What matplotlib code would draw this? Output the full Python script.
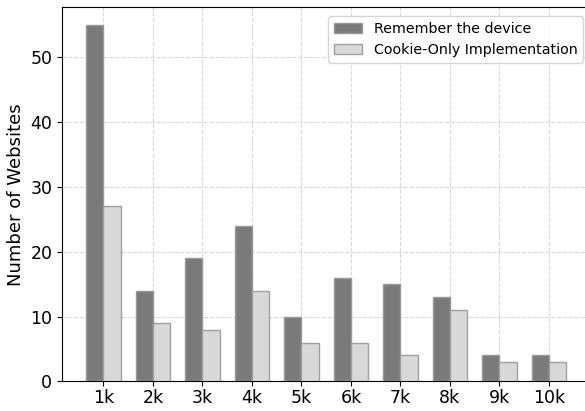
import matplotlib
matplotlib.use("Agg")
import matplotlib.pyplot as plt
import numpy as np

categories = ["1k", "2k", "3k", "4k", "5k", "6k", "7k", "8k", "9k", "10k"]
remember = [55, 14, 19, 24, 10, 16, 15, 13, 4, 4]
cookie_only = [27, 9, 8, 14, 6, 6, 4, 11, 3, 3]

fig = plt.figure(figsize=(5.85, 4.11), dpi=100)
ax = fig.add_axes([0.106, 0.072, 0.903, 0.911])
x = np.arange(len(categories))
w = 0.35
ax.bar(x - w/2, remember, w, color="#7a7a7a", edgecolor="#999999", linewidth=1.0,
       label="Remember the device", zorder=3)
ax.bar(x + w/2, cookie_only, w, color="#d8d8d8", edgecolor="#a0a0a0", linewidth=1.0,
       label="Cookie-Only Implementation", zorder=3)
ax.set_xticks(x)
ax.set_xticklabels(categories, fontsize=12.5)
ax.tick_params(axis="x", pad=2)
ax.tick_params(axis="y", labelsize=12.5)
ax.set_ylabel("Number of Websites", fontsize=13)
ax.grid(True, linestyle="--", color="#d8d8d8", linewidth=0.8, zorder=0)
ax.set_axisbelow(True)
ax.legend(loc="upper right", fontsize=10.3, bbox_to_anchor=(1.0, 0.995))
fig.savefig("out.png", dpi=100)
